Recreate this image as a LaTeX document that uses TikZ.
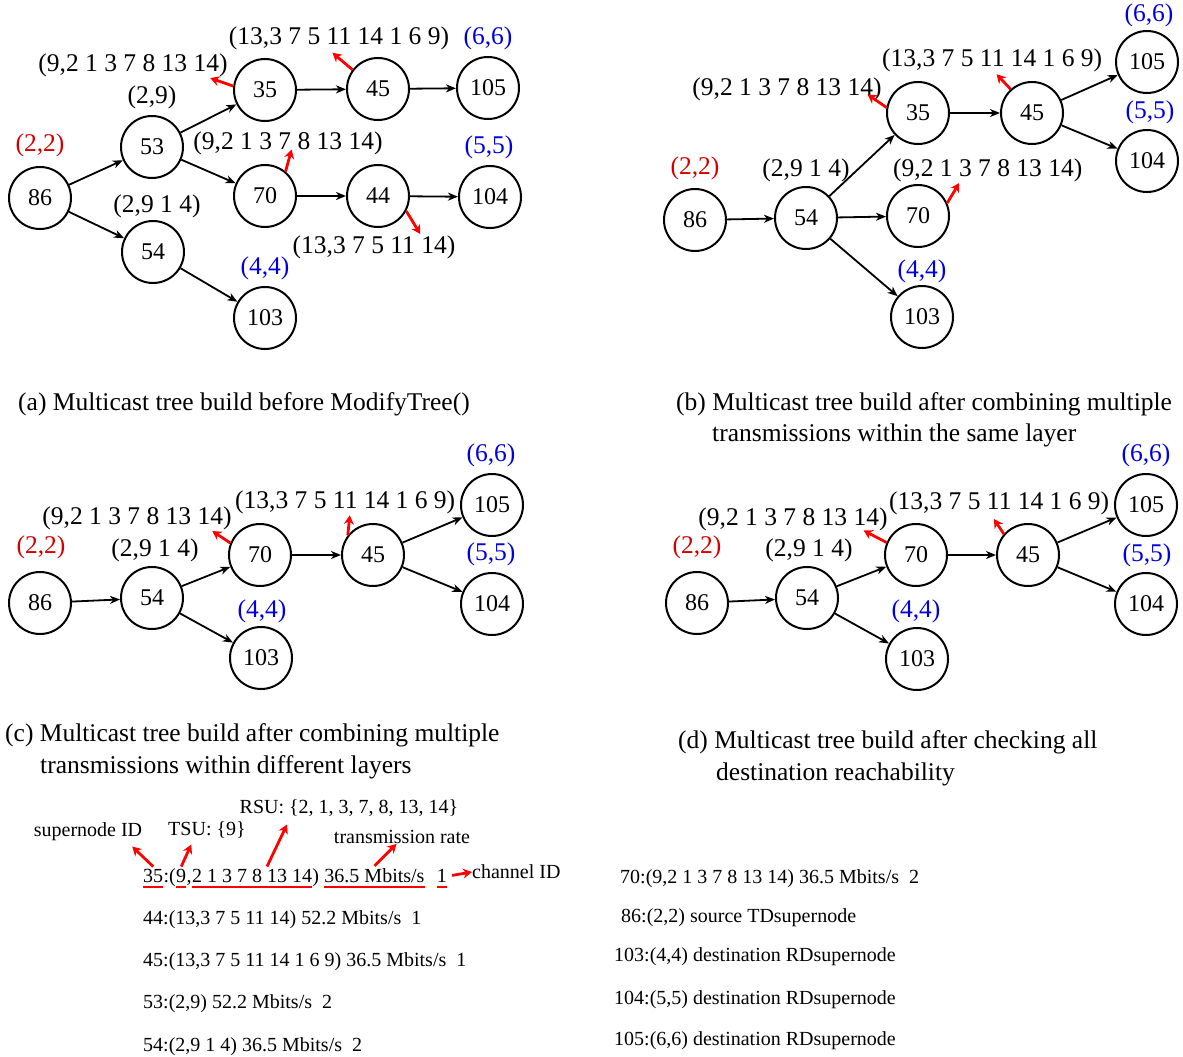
\documentclass[tikz,border=0pt]{standalone}
\usepackage{fontspec}
\setmainfont{Liberation Serif}
\usetikzlibrary{arrows.meta,calc}
\definecolor{lred}{RGB}{210,0,0}
\definecolor{lblue}{RGB}{0,0,220}
\tikzset{
  nd/.style={circle,draw,line width=2pt,minimum size=62pt,inner sep=0pt,font=\fontsize{24}{28}\selectfont},
  lb/.style={inner sep=0pt,font=\fontsize{25.5}{30}\selectfont},
  rl/.style={lb,text=lred},
  bl/.style={lb,text=lblue},
  ed/.style={line width=1.8pt,-{Stealth[length=10pt,width=8pt,inset=3pt]}},
  ra/.style={draw=red,line width=2.8pt,-{Stealth[length=9pt,width=10pt]}},
  ul/.style={draw=red,line width=2.6pt},
  capt/.style={inner sep=0pt,anchor=base west,font=\fontsize{25.5}{30}\selectfont},
  lg/.style={inner sep=0pt,anchor=base west,font=\fontsize{20}{24}\selectfont},
  lgc/.style={inner sep=0pt,font=\fontsize{20}{24}\selectfont},
}
\begin{document}
\begin{tikzpicture}[x=1pt,y=-1pt]
\useasboundingbox (0,0) rectangle (1183,1057);
% ---------------- panel (a)
\node[nd] (a86) at (40,198) {86};
\node[nd] (a53) at (152,147) {53};
\node[nd] (a54) at (153,252) {54};
\node[nd] (a35) at (265,90) {35};
\node[nd] (a45) at (378,89) {45};
\node[nd] (a105) at (488,88) {105};
\node[nd] (a70) at (265,196) {70};
\node[nd] (a44) at (378,196) {44};
\node[nd] (a104) at (490,197) {104};
\node[nd] (a103) at (265,318) {103};
\node[rl] (al22) at (40,145) {(2,2)};
\node[lb] (al29) at (152,97) {(2,9)};
\node[lb] (al35) at (133,65) {(9,2 1 3 7 8 13 14)};
\node[lb] (al45) at (339,38) {(13,3 7 5 11 14 1 6 9)};
\node[bl] (al66) at (488,38) {(6,6)};
\node[lb] (al70) at (288,143) {(9,2 1 3 7 8 13 14)};
\node[bl] (al55) at (489,147) {(5,5)};
\node[lb] (al54) at (157,206) {(2,9 1 4)};
\node[lb] (al44) at (374,247) {(13,3 7 5 11 14)};
\node[bl] (al44b) at (265,268) {(4,4)};
\draw[ed] (a86) -- (a53);
\draw[ed] (a86) -- (a54);
\draw[ed] (a53) -- (a35);
\draw[ed] (a53) -- (a70);
\draw[ed] (a35) -- (a45);
\draw[ed] (a45) -- (a105);
\draw[ed] (a70) -- (a44);
\draw[ed] (a44) -- (a104);
\draw[ed] (a54) -- (a103);
\draw[ra] (a35.173) -- ++(-23,-8);
\draw[ra] (a45.143) -- ++(-20,-17);
\draw[ra] (a70.50) -- ++(6,-22);
\draw[ra] (a44.-28) -- ++(14,23);
\node[capt] (capa) at (18,410) {(a) Multicast tree build before ModifyTree()};
% ---------------- panel (b)
\node[nd] (b86) at (695,220) {86};
\node[nd] (b54) at (806,218) {54};
\node[nd] (b35) at (918,113) {35};
\node[nd] (b45) at (1032,113) {45};
\node[nd] (b70) at (918,216) {70};
\node[nd] (b103) at (922,317) {103};
\node[nd] (b105) at (1147,62) {105};
\node[nd] (b104) at (1147,161) {104};
\node[rl] (bl22) at (695,168) {(2,2)};
\node[lb] (bl54) at (806,170) {(2,9 1 4)};
\node[lb] (bl35) at (787,89) {(9,2 1 3 7 8 13 14)};
\node[lb,anchor=west] (bl45) at (882,60) {(13,3 7 5 11 14 1 6 9)};
\node[lb,anchor=west] (bl70) at (893,170) {(9,2 1 3 7 8 13 14)};
\node[bl] (bl44) at (922,271) {(4,4)};
\node[bl] (bl66) at (1149,15) {(6,6)};
\node[bl] (bl55) at (1150,112) {(5,5)};
\draw[ed] (b86) -- (b54);
\draw[ed] (b54) -- (b35);
\draw[ed] (b54) -- (b70);
\draw[ed] (b54) -- (b103);
\draw[ed] (b35) -- (b45);
\draw[ed] (b45) -- (b105);
\draw[ed] (b45) -- (b104);
\draw[ra] (b35.170) -- ++(-19,-13);
\draw[ra] (b45.132) -- ++(-14,-15);
\draw[ra] (b70.24) -- ++(12,-20);
\node[capt] (capb1) at (676,410) {(b) Multicast tree build after combining multiple};
\node[capt] (capb2) at (712,441) {transmissions within the same layer};
% ---------------- panel (c)
\node[nd] (c86) at (40,603) {86};
\node[nd] (c54) at (152,598) {54};
\node[nd] (c70) at (260,555) {70};
\node[nd] (c45) at (373,555) {45};
\node[nd] (c103) at (261,658) {103};
\node[nd] (c105) at (492,505) {105};
\node[nd] (c104) at (492,604) {104};
\node[rl] (cl22) at (41,547) {(2,2)};
\node[lb] (cl54) at (155,550) {(2,9 1 4)};
\node[lb] (cl70) at (137,518) {(9,2 1 3 7 8 13 14)};
\node[lb,anchor=west] (cl45) at (235,502) {(13,3 7 5 11 14 1 6 9)};
\node[bl] (cl44) at (262,611) {(4,4)};
\node[bl] (cl66) at (491,455) {(6,6)};
\node[bl] (cl55) at (491,554) {(5,5)};
\draw[ed] (c86) -- (c54);
\draw[ed] (c54) -- (c70);
\draw[ed] (c54) -- (c103);
\draw[ed] (c70) -- (c45);
\draw[ed] (c45) -- (c105);
\draw[ed] (c45) -- (c104);
\draw[ra] (c70.158) -- ++(-18,-12);
\draw[ra] (c45.142) -- ++(2,-20);
\node[capt] (capc1) at (5,741) {(c) Multicast tree build after combining multiple};
\node[capt] (capc2) at (40,773) {transmissions within different layers};
% ---------------- panel (d)
\node[nd] (d86) at (697,603) {86};
\node[nd] (d54) at (807,598) {54};
\node[nd] (d70) at (916,555) {70};
\node[nd] (d45) at (1028,555) {45};
\node[nd] (d103) at (917,659) {103};
\node[nd] (d105) at (1146,505) {105};
\node[nd] (d104) at (1146,604) {104};
\node[rl] (dl22) at (697,547) {(2,2)};
\node[lb] (dl54) at (809,550) {(2,9 1 4)};
\node[lb] (dl70) at (793,519) {(9,2 1 3 7 8 13 14)};
\node[lb,anchor=west] (dl45) at (889,503) {(13,3 7 5 11 14 1 6 9)};
\node[bl] (dl44) at (916,611) {(4,4)};
\node[bl] (dl66) at (1146,455) {(6,6)};
\node[bl] (dl55) at (1147,555) {(5,5)};
\draw[ed] (d86) -- (d54);
\draw[ed] (d54) -- (d70);
\draw[ed] (d54) -- (d103);
\draw[ed] (d70) -- (d45);
\draw[ed] (d45) -- (d105);
\draw[ed] (d45) -- (d104);
\draw[ra] (d70.157) -- ++(-23,-12);
\draw[ra] (d45.139) -- ++(-10,-15);
\node[capt] (capd1) at (678,748) {(d) Multicast tree build after checking all};
\node[capt] (capd2) at (716,780) {destination reachability};
% ---------------- legend
\node[lg] (l35a) at (143,882) {35};
\node[lg] (l35b) at (l35a.base east) {:(};
\node[lg] (l35c) at (l35b.base east) {9};
\node[lg] (l35d) at (l35c.base east) {,};
\node[lg] (l35e) at (l35d.base east) {2 1 3 7 8 13 14};
\node[lg] (l35f) at (l35e.base east) {)};
\node[lg] (l35g) at ([xshift=5pt]l35f.base east) {36.5 Mbits/s};
\node[lg] (l35i) at ([xshift=12pt]l35g.base east) {1};
\foreach \n in {l35a,l35c,l35e,l35g,l35i}
  \draw[ul] ([yshift=-5pt]\n.base west) -- ([yshift=-5pt]\n.base east);
\node[lgc] (sid) at (88,832) {supernode ID};
\node[lgc] (tsu) at (207,830) {TSU: \{9\}};
\node[lgc] (rsu) at (349,808) {RSU: \{2, 1, 3, 7, 8, 13, 14\}};
\node[lgc] (trt) at (402,837) {transmission rate};
\node[lgc,anchor=west] (chid) at (472,872) {channel ID};
\draw[ra] ([yshift=2pt]l35a.north) -- ++(-21,-20);
\draw[ra] ([yshift=2pt]l35c.north) -- ++(10,-22);
\draw[ra] ([xshift=15pt,yshift=2pt]l35e.north) -- ++(20,-42);
\draw[ra] ([yshift=2pt]l35g.north) -- ++(22,-22);
\draw[ra] ([xshift=5pt]l35i.east) -- (chid.west);
\node[lg] (l44) at (143,924) {44:(13,3 7 5 11 14) 52.2 Mbits/s~~1};
\node[lg] (l45) at (143,966) {45:(13,3 7 5 11 14 1 6 9) 36.5 Mbits/s~~1};
\node[lg] (l53) at (143,1008) {53:(2,9) 52.2 Mbits/s~~2};
\node[lg] (l54) at (143,1051) {54:(2,9 1 4) 36.5 Mbits/s~~2};
\node[lg] (l70) at (620,883) {70:(9,2 1 3 7 8 13 14) 36.5 Mbits/s~~2};
\node[lg] (l86) at (621,922) {86:(2,2) source TDsupernode};
\node[lg] (l103) at (614,961) {103:(4,4) destination RDsupernode};
\node[lg] (l104) at (614,1004) {104:(5,5) destination RDsupernode};
\node[lg] (l105) at (614,1045) {105:(6,6) destination RDsupernode};
\end{tikzpicture}
\end{document}
